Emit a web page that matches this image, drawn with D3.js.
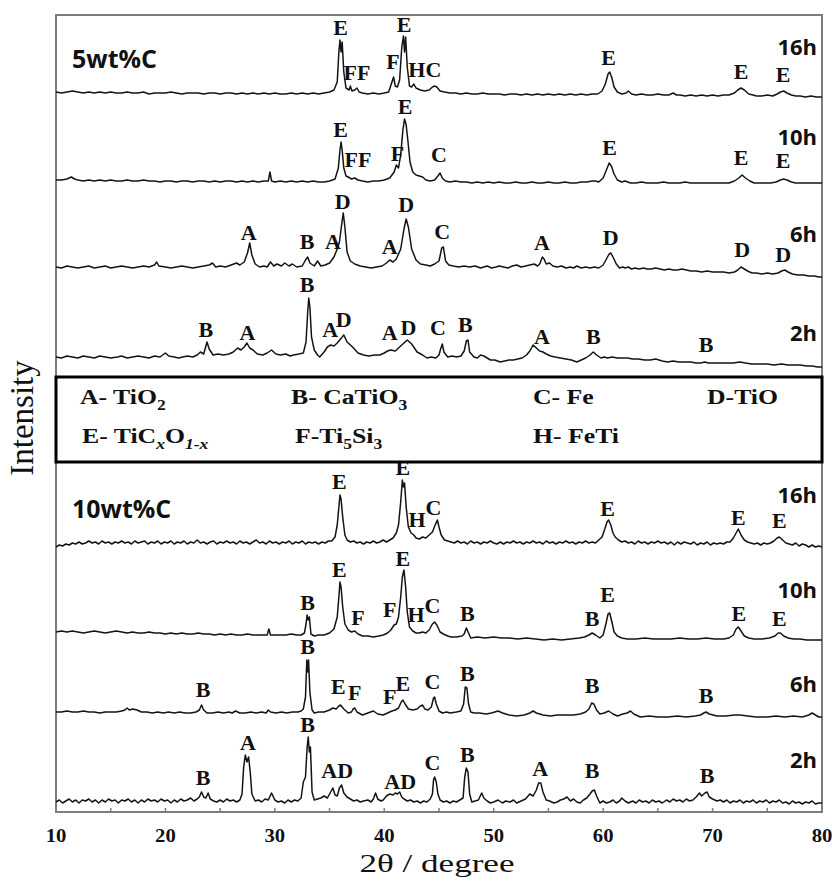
<!DOCTYPE html>
<html><head><meta charset="utf-8">
<script src="https://cdn.jsdelivr.net/npm/d3@7"></script>
<style>body{margin:0;background:#fff}svg{display:block}</style>
</head><body>
<svg id="chart" width="832" height="882"></svg>
<script>
// ---------- axis / category data ----------
const xTickValues = [10, 20, 30, 40, 50, 60, 70, 80];
const xMinorTicks = [15, 25, 35, 45, 55, 65, 75];
const groups = ["5wt%C", "10wt%C"];
const times = ["16h", "10h", "6h", "2h"];
// vertical offsets (intensity units) of the stacked patterns, top to bottom
const offsets = [720, 632, 545, 455, 265, 180, 100, 10];

// ---------- series: flat [2theta, intensity, ...] ----------
const s5_16h = [10,0,10.5,-1,11,0,11.5,1,12,0,12.5,-1,13,0,13.5,-1,14,0,14.5,-1,15,0,15.5,-1,16,-1,16.5,0,17,-1,17.5,-1,18,0,18.5,-2,19,-1,19.5,-1,20,-1,20.5,0,21,-1,21.5,-2,22,-1,22.5,-1,23,-1,23.5,-2,24,-1,24.5,-1,25,-2,25.5,-1,26,-1,26.5,-2,27,-1,27.5,-2,28,-1,28.5,-2,29,-1,29.5,-2,30,-1,30.5,-2,31,-2,31.5,-1,32,-2,32.5,-1,33,-2,33.5,-1,34,-2,34.5,-1,35,0,35.4,2,35.7,10,35.85,40,35.95,52,36.05,40,36.15,50,36.3,20,36.5,4,36.8,2,36.9,6,37.05,1,37.3,2,37.5,4,37.7,0,38,-1,38.5,-2,39,-1,39.5,-2,40,-1,40.4,0,40.7,10,40.85,15,41,6,41.2,5,41.4,12,41.6,45,41.75,56,41.85,40,41.95,55,42.1,25,42.3,6,42.5,5,42.7,8,42.9,4,43.3,2,43.7,1,44.1,2,44.4,5,44.6,6,44.8,5,45.1,1,45.5,0,46,-1,46.5,-1,47,-2,47.5,-1,48,-2,48.5,-2,49,-1,49.5,-2,50,-2,50.5,-2,51,-3,51.5,-2,52,-2,52.5,-3,53,-2,53.5,-3,54,-2,54.5,-3,55,-2,55.5,-3,56,-2,56.5,-3,57,-2,57.5,-3,58,-2,58.5,-3,59,-2,59.5,-2,59.9,1,60.2,8,60.45,18,60.6,20,60.8,14,61,5,61.3,0,61.7,-2,62.1,-1,62.3,1,62.6,-2,63,-3,63.5,-2,64,-3,64.5,-3,65,-2,65.5,-3,66,-3,66.4,-1,66.7,-3,67,-3,67.5,-4,68,-3,68.5,-4,69,-3,69.5,-4,70,-3,70.5,-4,71,-3,71.5,-3,72,-1,72.3,2,72.6,4,72.9,2,73.3,-2,73.7,-3,74,-4,74.5,-4,75,-3,75.5,-4,75.9,-2,76.2,0,76.5,1,76.8,-1,77.2,-3,77.6,-4,78,-4,78.5,-5,79,-4,79.5,-5,80,-5];

const s5_10h = [10,0,10.5,0,11,1,11.4,3,11.7,1,12,0,12.5,-1,13,0,13.5,-1,14,0,14.5,-1,15,0,15.5,-1,16,-1,16.5,0,17,-1,17.5,-1,18,0,18.5,-1,19,-1,19.5,-2,20,-1,20.5,-1,21,-2,21.5,-1,22,-1,22.5,-2,23,-1,23.5,-1,24,-2,24.5,-1,25,-2,25.5,-1,26,-1,26.5,-2,27,-1,27.5,-2,28,-1,28.5,-2,29,-1,29.4,-1,29.55,8,29.7,-1,30,-2,30.5,-1,31,-2,31.5,-1,32,-2,32.5,-1,33,-2,33.5,-1,34,-2,34.5,-2,35,-1,35.5,1,35.8,12,35.95,30,36.05,38,36.15,30,36.3,12,36.5,4,36.7,3,37,1,37.3,2,37.6,0,38,-1,38.5,-2,39,-1,39.5,-1,40,0,40.5,2,40.9,8,41.1,15,41.3,12,41.5,25,41.7,50,41.85,61,42,55,42.15,40,42.35,18,42.6,8,42.9,5,43.2,4,43.5,3,43.8,0,44.2,-1,44.6,0,44.9,4,45.1,7,45.3,2,45.6,-1,46,-2,46.5,-1,47,-2,47.5,-2,48,-3,48.5,-2,49,-3,49.5,-2,50,-3,50.5,-2,51,-3,51.5,-3,52,-2,52.5,-3,53,-3,53.5,-2,54,-3,54.5,-3,55,-2,55.5,-3,56,-3,56.5,-2,57,-3,57.5,-3,58,-2,58.5,-2,59,-1,59.3,-1,59.6,-2,60,2,60.3,10,60.55,17,60.75,14,61,6,61.3,0,61.7,-2,62,-1,62.5,-3,63,-3,63.5,-2,64,-3,64.5,-3,65,-3,65.5,-2,66,-3,66.5,-3,67,-3,67.5,-2,68,-3,68.5,-3,69,-3,69.5,-3,70,-3,70.5,-3,71,-3,71.5,-3,72,-1,72.4,2,72.7,5,73,2,73.4,-1,73.8,-3,74.3,-3,74.8,-3,75.3,-3,75.8,-2,76.2,0,76.5,1,76.8,0,77.2,-2,77.6,-3,78,-3,78.5,-3,79,-3,79.5,-3,80,-3];

const s5_6h = [10,0,10.5,-1,11,1,11.5,0,12,-1,12.5,0,13,1,13.5,-1,14,0,14.5,1,15,-1,15.5,0,16,1,16.5,0,17,-1,17.5,0,18,1,18.5,0,19,2,19.2,5,19.4,1,20,0,20.5,-1,21,0,21.5,1,22,0,22.5,-1,23,0,23.5,1,24,2,24.3,4,24.6,0,25,1,25.5,0,26,2,26.5,4,26.8,2,27.2,5,27.5,14,27.7,24,27.9,12,28.2,3,28.6,0,29,1,29.3,0,29.6,5,29.9,1,30.2,3,30.6,1,30.9,4,31.3,1,31.6,3,32,0,32.5,1,32.8,7,33,10,33.2,4,33.6,1,33.9,6,34.2,1,34.6,2,35,4,35.4,10,35.7,18,35.9,25,36.1,42,36.25,54,36.4,40,36.6,15,36.9,6,37.3,3,37.8,1,38.3,0,38.8,-1,39.3,0,39.8,1,40.2,4,40.5,7,40.8,5,41.1,8,41.5,18,41.8,38,42,48,42.2,40,42.5,18,42.9,7,43.3,3,43.8,2,44.2,1,44.6,3,45,6,45.25,19,45.4,20,45.6,6,45.9,2,46.3,1,46.8,0,47.3,1,47.8,0,48.3,1,48.8,-1,49.4,1,49.8,-1,50.2,0,50.5,1,50.9,0,51.3,-1,51.7,1,52.1,2,52.5,0,52.9,1,53.3,2,53.7,3,54,1,54.2,3,54.45,10,54.6,8,54.8,3,55.1,4,55.4,1,55.8,0,56.2,1,56.6,-1,57,0,57.3,-1,57.6,1,58,-1,58.4,0,58.8,-1,59.2,0,59.6,-1,60,2,60.3,8,60.55,13,60.7,14,60.9,10,61.2,3,61.5,-1,61.8,0,62,-1,62.3,0,62.6,-2,62.9,-1,63.3,-2,63.7,-1,64,-2,64.4,-2,64.8,-1,65.2,-2,65.6,-3,66,-2,66.4,-3,66.8,-3,67.2,-2,67.6,-3,68,-4,68.5,-4,69,-5,69.5,-4,70,-5,70.5,-5,71,-5,71.5,-6,72,-5,72.3,-3,72.6,0,72.9,-2,73.2,-4,73.6,-6,74,-6,74.5,-7,75,-6,75.5,-7,76,-6,76.3,-4,76.6,-3,76.9,-5,77.3,-7,77.8,-8,78.3,-8,78.8,-9,79.3,-9,79.7,-10,80,-10];

const s5_2h = [10,0,10.5,-1,11,1,11.5,0,12,-1,12.5,1,13,0,13.5,-1,14,1,14.5,0,15,-1,15.6,0,16,1,16.5,-1,17,0,17.5,1,18,0,18.5,-1,19,1,19.5,0,20,4,20.3,1,20.8,0,21.2,-1,21.6,0,22,1,22.5,0,22.9,2,23.2,5,23.5,3,23.8,15,24,8,24.35,2,24.8,3,25.3,2,25.8,3,26.2,5,26.6,9,26.9,7,27.2,10,27.45,14,27.7,9,28,7,28.4,3,28.9,2,29.3,4,29.7,7,30.1,3,30.5,2,31,3,31.4,1,31.7,2,32.2,3,32.6,4,32.85,15,33,45,33.1,59,33.2,50,33.35,20,33.6,7,33.9,2,34.1,0,34.5,5,34.8,10,35.1,12,35.4,11,35.7,14,36,18,36.3,22,36.6,15,37.1,10,37.6,4,38.1,2,38.6,1,39.1,2,39.6,2,40,4,40.3,6,40.6,7,41,6,41.3,9,41.7,13,42.1,17,42.5,13,43,5,43.5,2,43.9,-1,44.3,0,44.7,-1,45,2,45.15,8,45.3,13,45.45,5,45.8,0,46.2,1,46.6,0,47,1,47.3,6,47.5,16,47.65,17,47.8,5,48.2,0,48.5,-1,48.8,2,49.1,1,49.4,-1,49.7,-3,50.1,-3,50.6,-5,51,-4,51.4,-3,51.8,-3,52.2,-2,52.6,-1,53,2,53.3,6,53.6,12,53.9,9,54.2,6,54.5,5,54.8,3,55.2,1,55.6,0,56.1,-1,56.6,-2,57.1,-3,57.6,-5,58,-3,58.4,-1,58.8,2,59.1,5,59.4,2,59.8,-1,60.1,0,60.4,-1,60.8,0,61.3,-1,61.8,-1,62.2,-1,62.7,-2,63.2,-2,63.8,-3,64.3,-3,64.8,-2,65.4,-4,65.9,-5,66.4,-4,66.9,-5,67.5,-5,68,-5,68.5,-6,68.9,-6,69.3,-5,69.6,-6,70.1,-6,70.6,-6,71.2,-6,71.9,-6,72.5,-5,73,-6,73.6,-7,74.3,-7,75,-7,75.6,-8,76.3,-7,76.9,-8,77.5,-8,78,-8,78.6,-9,79.1,-9,79.6,-10,80,-10];

const s10_16h = [10,0,10.3,2,10.6,1,10.9,3,11.2,2,11.5,4,11.8,3,12.1,5,12.4,3,12.7,4,13,6,13.3,4,13.6,5,13.9,3,14.2,6,14.5,4,14.8,5,15.1,3,15.4,5,15.7,4,16,6,16.3,4,16.6,5,16.9,3,17.2,6,17.5,4,17.8,5,18.1,6,18.4,3,18.7,5,19,4,19.3,6,19.6,3,19.9,5,20.2,4,20.5,6,20.8,3,21.1,5,21.4,4,21.7,6,22,3,22.3,5,22.6,4,22.9,7,23.2,4,23.5,5,23.8,3,24.1,5,24.4,6,24.7,3,25,5,25.3,4,25.6,6,25.9,4,26.2,5,26.5,3,26.8,6,27.1,4,27.4,5,27.7,3,28,5,28.3,7,28.6,4,28.9,5,29.2,3,29.5,6,29.8,4,30.1,5,30.4,3,30.7,5,31,4,31.3,6,31.6,3,31.9,5,32.2,4,32.5,6,32.8,3,33.1,5,33.4,4,33.7,5,34,3,34.3,5,34.6,4,34.9,6,35.2,6,35.5,10,35.7,22,35.85,40,35.95,52,36.05,48,36.2,30,36.4,12,36.6,7,36.9,5,37.2,6,37.5,4,37.8,5,38.1,3,38.4,5,38.7,4,39,6,39.3,4,39.6,5,39.9,7,40.2,5,40.5,7,40.8,9,41.1,14,41.3,22,41.5,45,41.65,67,41.75,60,41.85,64,42,40,42.2,20,42.45,14,42.7,12,42.9,9,43.2,8,43.5,10,43.8,9,44.1,12,44.4,15,44.65,22,44.85,27,45,20,45.2,12,45.5,7,45.8,6,46.1,5,46.4,4,46.7,6,47,4,47.3,5,47.6,3,47.9,6,48.2,4,48.5,5,48.8,3,49.1,5,49.4,4,49.7,6,50,4,50.3,3,50.6,5,50.9,3,51.2,5,51.5,4,51.8,6,52.1,4,52.4,5,52.7,3,53,5,53.3,4,53.6,6,53.9,4,54.2,5,54.5,3,54.8,6,55.1,4,55.4,5,55.7,3,56,5,56.3,4,56.6,6,56.9,4,57.2,5,57.5,3,57.8,5,58.1,4,58.4,6,58.7,4,59,5,59.3,4,59.6,7,59.9,10,60.15,18,60.35,25,60.5,27,60.7,22,60.9,14,61.1,10,61.4,7,61.7,5,62,6,62.3,4,62.6,5,62.9,3,63.2,6,63.5,4,63.8,5,64.1,3,64.4,5,64.7,4,65,6,65.3,4,65.6,5,65.9,3,66.2,5,66.5,2,66.8,5,67.1,3,67.4,5,67.7,4,68,3,68.3,5,68.6,2,68.9,4,69.2,3,69.5,5,69.8,2,70.1,4,70.4,3,70.7,4,71,3,71.3,5,71.6,5,71.9,9,72.15,14,72.35,18,72.6,12,72.9,7,73.2,5,73.5,4,73.8,3,74.1,4,74.4,2,74.7,4,75,3,75.3,4,75.6,6,75.9,9,76.1,10,76.4,7,76.7,4,77,3,77.3,2,77.6,4,77.9,1,78.2,3,78.5,2,78.8,0,79.1,2,79.4,0,79.7,1,80,0];

const s10_10h = [10,0,10.5,1,11,0,11.5,1,12,0,12.5,-1,13,0,13.5,1,14,0,14.5,-1,15,0,15.5,1,16,0,16.5,-1,17,0,17.5,-1,18,-1,18.5,0,19,-1,19.5,-1,20,-2,20.5,-1,21,-2,21.5,-1,22,-2,22.5,-2,23,-1,23.5,-2,24,-2,24.5,-3,25,-2,25.5,-3,26,-2,26.5,-3,27,-3,27.5,-2,28,-3,28.5,-3,29,-3,29.3,-3,29.45,3,29.6,-3,30,-3,30.5,-3,31,-3,31.5,-2,32,-3,32.4,-3,32.7,-1,32.85,8,32.95,17,33.05,12,33.15,15,33.3,-2,33.6,-4,34,-3,34.5,-3,35,-1,35.4,3,35.7,15,35.85,35,35.95,50,36.05,45,36.2,25,36.4,8,36.7,2,37,0,37.3,1,37.6,-2,38,-4,38.5,-4,39,-5,39.5,-4,39.9,-3,40.3,-1,40.6,2,40.9,7,41.1,8,41.3,15,41.5,35,41.65,55,41.8,62,41.95,45,42.1,20,42.3,5,42.6,1,42.9,-1,43.2,-1,43.5,0,43.8,-1,44.1,2,44.4,8,44.6,10,44.8,7,45.1,0,45.4,-2,45.8,-4,46.1,-5,46.6,-5,47.1,-4,47.3,-2,47.5,4,47.7,-1,47.9,-6,48.5,-5,49.2,-6,50,-5,50.7,-6,51.4,-6,52.2,-7,53,-6,53.8,-7,54.6,-8,55.4,-7,56.2,-8,57,-7,57.8,-6,58.3,-5,58.7,-3,59,-1,59.3,-3,59.7,-6,60,-3,60.25,8,60.45,18,60.6,19,60.8,10,61,0,61.3,-4,61.7,-6,62.2,-7,63,-7,63.8,-6,64.6,-7,65.4,-7,66.2,-7,67,-6,67.8,-7,68.6,-7,69.4,-6,70.2,-7,71,-7,71.5,-6,71.9,-3,72.15,3,72.35,5,72.6,1,72.9,-4,73.3,-6,73.8,-7,74.5,-7,75.2,-6,75.7,-4,76,-1,76.2,-1,76.5,-4,76.9,-6,77.4,-7,78,-7,78.6,-8,79.3,-8,80,-8];

const s10_6h = [10,0,10.5,0,11,1,11.5,0,12,0,12.5,1,13,0,13.5,0,14,-1,14.5,0,15,0,15.5,0,16,1,16.3,2,16.5,4,16.7,2,17,3,17.4,2,17.8,0,18.3,0,18.8,-1,19.3,0,19.8,-1,20.3,0,20.8,-1,21.3,0,21.8,-1,22.3,-1,22.8,0,23.1,2,23.3,7,23.5,2,23.8,-1,24.3,-1,24.8,0,25.3,-1,25.8,0,26.1,-1,26.4,1,26.8,-1,27.3,-1,27.8,0,28.3,-1,28.8,0,29.2,-1,29.4,2,29.6,0,30.1,-1,30.6,0,31.1,-1,31.6,0,32.1,0,32.4,1,32.6,3,32.8,15,32.92,52,33,40,33.08,52,33.2,20,33.4,2,33.6,-1,34,0,34.5,0,35,2,35.3,4,35.6,3,35.85,6,36,7,36.3,3,36.7,-1,37,0,37.15,3,37.3,4,37.5,0,38,-3,38.5,-1,39,1,39.4,-2,39.9,-3,40.3,-1,40.7,1,41,2,41.3,4,41.55,10,41.7,12,41.9,8,42.2,3,42.6,2,43,3,43.3,6,43.5,7,43.7,3,44,2,44.3,5,44.5,14,44.6,15,44.75,8,45,1,45.3,-1,45.7,0,46,-1,46.6,0,47,1,47.25,8,47.4,25,47.55,24,47.7,8,47.9,0,48.2,-1,48.7,-1,49.3,-2,49.8,-1,50.4,1,50.8,-1,51.4,-3,52.1,-4,52.8,-3,53.3,-1,53.6,1,53.9,-1,54.5,-3,55.2,-4,55.8,-3,56.5,-3,57.3,-3,57.9,-2,58.4,0,58.7,3,58.95,9,59.15,8,59.4,2,59.7,-2,60.1,-1,60.5,1,60.9,-2,61.3,-4,61.8,-2,62.2,-1,62.5,1,62.8,-2,63.4,-5,64.2,-4,65,-5,65.9,-5,66.8,-4,67.6,-5,68.4,-4,68.9,-3,69.2,-1,69.4,0,69.7,-2,70.4,-4,71.2,-4,72,-3,72.5,-3,73.2,-4,74,-5,75,-5,75.8,-4,76.6,-5,77.4,-4,78.2,-5,78.8,-3,79.1,-1,79.4,-3,79.7,-5,80,-5];

const s10_2h = [10,0,10.3,2,10.6,-1,10.9,1,11.2,3,11.5,0,11.8,2,12.1,-1,12.4,2,12.7,1,13,3,13.3,0,13.6,2,13.9,-1,14.2,2,14.5,0,14.8,3,15.1,1,15.4,2,15.7,-1,16,2,16.3,1,16.6,3,16.9,0,17.2,2,17.5,-1,17.8,2,18.1,0,18.4,3,18.7,1,19,2,19.3,0,19.6,3,19.9,1,20.2,2,20.5,-1,20.8,2,21.1,0,21.4,3,21.7,1,22,2,22.3,4,22.6,1,22.9,3,23.1,5,23.3,10,23.5,5,23.7,4,23.9,9,24.1,3,24.4,1,24.7,0,25,2,25.3,0,25.6,3,25.9,1,26.2,2,26.5,0,26.8,2,27,8,27.15,35,27.3,47,27.45,40,27.6,45,27.75,30,27.9,8,28.2,1,28.5,2,28.8,0,29.1,3,29.4,2,29.7,9,30,2,30.3,0,30.6,1,30.9,-1,31.2,2,31.5,0,31.8,2,32.1,1,32.4,4,32.6,20,32.8,25,32.95,55,33.05,65,33.15,50,33.25,55,33.4,10,33.6,2,33.9,3,34.2,4,34.5,6,34.8,4,35,8,35.3,14,35.5,7,35.7,6,35.9,14,36.1,17,36.3,9,36.6,5,36.9,3,37.2,1,37.5,2,37.8,0,38.1,1,38.5,2,38.8,0,39,3,39.2,9,39.4,3,39.7,1,39.9,2,40.2,6,40.5,8,40.8,7,41,9,41.2,8,41.4,10,41.6,5,41.8,3,42.1,1,42.4,2,42.7,0,43,1,43.3,-1,43.6,1,43.9,0,44.2,3,44.4,8,44.5,22,44.6,25,44.75,20,44.9,8,45.1,2,45.4,0,45.7,1,46,-1,46.3,1,46.6,0,46.9,2,47.2,4,47.35,25,47.5,34,47.65,30,47.8,8,48,0,48.3,1,48.6,2,48.9,9,49.1,4,49.4,1,49.7,-1,50,0,50.4,2,50.8,-1,51.1,1,51.5,0,51.8,2,52.1,-1,52.5,1,52.9,3,53.3,8,53.6,6,53.9,12,54.1,19,54.3,19,54.5,10,54.8,2,55.1,1,55.5,-1,55.8,0,56.1,2,56.4,3,56.7,5,57,1,57.3,3,57.6,0,57.9,-1,58.2,2,58.5,4,58.8,8,59,11,59.2,12,59.4,6,59.7,-1,60,1,60.3,-1,60.6,0,60.9,2,61.2,-1,61.5,1,61.7,4,62,1,62.3,-1,62.7,1,63,-1,63.3,2,63.6,0,63.9,1,64.2,-1,64.5,2,64.8,0,65.1,1,65.4,-1,65.8,2,66.1,0,66.4,3,66.7,1,67,2,67.3,0,67.6,3,67.9,1,68.2,2,68.5,5,68.8,9,69,6,69.3,9,69.5,10,69.7,5,70,3,70.4,1,70.7,2,71,0,71.3,2,71.6,-1,71.9,1,72.2,0,72.5,2,72.8,-1,73.1,1,73.4,0,73.7,2,74,-1,74.3,1,74.6,0,74.9,2,75.2,-1,75.5,1,75.8,0,76.1,2,76.4,-1,76.7,0,77,-2,77.3,1,77.6,-1,77.9,0,78.2,-2,78.5,0,78.8,-1,79.1,1,79.4,-2,79.7,-1,80,-1];

// ---------- peak labels: [2theta, phase, intensity of label centre] ----------
const p5_16h = [[36.0,"E",64],[41.8,"E",67],[37.5,"FF",19],[40.8,"F",30],[43.7,"HC",22],[60.5,"E",34],[72.6,"E",20],[76.45,"E",17]];
const p5_10h = [[36.0,"E",50],[41.9,"E",73],[37.6,"FF",20],[41.2,"F",26],[45.0,"C",25],[60.6,"E",32],[72.6,"E",22],[76.45,"E",19]];
const p5_6h = [[27.6,"A",34],[32.95,"B",25],[35.3,"A",25],[36.2,"D",65],[40.5,"A",20],[42.0,"D",62],[45.3,"C",35],[54.4,"A",24],[60.7,"D",29],[72.7,"D",17],[76.45,"D",12]];
const p5_2h = [[23.7,"B",27],[27.5,"A",24],[32.95,"B",72],[35.05,"A",27],[36.3,"D",37],[40.5,"A",24],[42.2,"D",29],[44.9,"C",29],[47.4,"B",32],[54.4,"A",20],[59.1,"B",20],[69.4,"B",12]];
const p10_16h = [[35.9,"E",65],[41.7,"E",79],[43.0,"H",27],[44.5,"C",39],[60.4,"E",38],[72.35,"E",29],[76.1,"E",26]];
const p10_10h = [[33.0,"B",29],[35.9,"E",62],[37.6,"F",14],[40.5,"F",22],[41.7,"E",73],[42.9,"H",17],[44.4,"C",26],[47.6,"B",18],[59.0,"B",13],[60.4,"E",37],[72.4,"E",18],[76.1,"E",13]];
const p10_6h = [[23.45,"B",22],[33.0,"B",65],[35.8,"E",25],[37.3,"F",19],[40.5,"F",15],[41.7,"E",28],[44.4,"C",30],[47.6,"B",38],[59.0,"B",26],[69.4,"B",16]];
const p10_2h = [[23.45,"B",24],[27.55,"A",59],[33.0,"B",77],[35.7,"AD",31],[41.45,"AD",20],[44.4,"C",39],[47.6,"B",47],[54.25,"A",33],[59.0,"B",31],[69.5,"B",26]];

// ---------- legend (phase key) ----------
const legendRow1 = [
  [["A- TiO",""],["2","sub"]],
  [["B- CaTiO",""],["3","sub"]],
  [["C- Fe",""]],
  [["D-TiO",""]]
];
const legendRow2 = [
  [["E- TiC",""],["x","subi"],["O",""],["1-x","subi"]],
  [["F-Ti",""],["5","sub"],["Si",""],["3","sub"]],
  [["H- FeTi",""]]
];

// ---------- drawing ----------
const L = 56, R = 822, T = 15, B = 812;
const SERIF = "'Liberation Serif','Times New Roman',serif";
const SANS = "'Open Sans','Noto Sans',sans-serif";
const svg = d3.select("#chart");
const x = d3.scaleLinear().domain([10, 80]).range([L, R]);
const y = d3.scaleLinear().domain([0, 797]).range([B, T]);

const toPairs = a => { const out = []; for (let i = 0; i < a.length; i += 2) out.push([a[i], a[i+1]]); return out; };
const series = [s5_16h, s5_10h, s5_6h, s5_2h, s10_16h, s10_10h, s10_6h, s10_2h].map(toPairs);
const peakSets = [p5_16h, p5_10h, p5_6h, p5_2h, p10_16h, p10_10h, p10_6h, p10_2h];

// frame
svg.append("rect").attr("x", L).attr("y", T).attr("width", R - L).attr("height", B - T)
  .attr("fill", "none").attr("stroke", "#7d7d7d").attr("stroke-width", 2);

// traces
series.forEach((s, i) => {
  const off = offsets[i];
  const line = d3.line().x(d => x(d[0])).y(d => y(off + d[1]));
  svg.append("path").datum(s).attr("d", line).attr("fill", "none")
    .attr("stroke", "#141414").attr("stroke-width", 1.5).attr("stroke-linejoin", "round");
});

// peak labels (slightly wide bold serif like the source)
peakSets.forEach((ps, i) => {
  const off = offsets[i];
  svg.append("g").selectAll("text").data(ps).join("text")
    .attr("transform", d => `translate(${x(d[0])},${y(off + d[2])}) scale(1.1,1)`)
    .attr("dy", "0.35em")
    .attr("text-anchor", "middle")
    .attr("font-family", SERIF)
    .attr("font-weight", "bold").attr("font-size", 20).attr("fill", "#111")
    .text(d => d[1]);
});

// sample time labels
const timeBaselines = [55, 145, 242, 341, 503, 598, 692, 768];
timeBaselines.forEach((yy, i) => {
  svg.append("text").attr("x", 817).attr("y", yy).attr("text-anchor", "end")
    .attr("font-family", SANS).attr("font-weight", "bold")
    .attr("font-size", 22).attr("fill", "#111").text(times[i % 4]);
});

// group labels
[[68, groups[0]], [518, groups[1]]].forEach(([yy, t]) => {
  svg.append("text").attr("x", 72).attr("y", yy)
    .attr("font-family", SANS).attr("font-weight", "bold")
    .attr("font-size", 25).attr("fill", "#111").text(t);
});

// legend box
svg.append("rect").attr("x", L).attr("y", 377).attr("width", R - L).attr("height", 85)
  .attr("fill", "#fff").attr("stroke", "#000").attr("stroke-width", 3);
function legendItem(segs, xx, yy) {
  const t = svg.append("text").attr("transform", `translate(${xx},${yy}) scale(1.17,1)`)
    .attr("font-family", SERIF)
    .attr("font-weight", "bold").attr("font-size", 22).attr("fill", "#111");
  let shifted = false;
  segs.forEach(([s, kind]) => {
    const sp = t.append("tspan").text(s);
    if (kind === "sub" || kind === "subi") {
      sp.attr("font-size", 15).attr("dy", shifted ? 0 : 6);
      if (kind === "subi") sp.attr("font-style", "italic");
      shifted = true;
    } else if (shifted) { sp.attr("dy", -6); shifted = false; }
  });
}
const legendCols1 = [80, 291, 533, 707];
const legendCols2 = [82, 295, 533];
legendRow1.forEach((segs, i) => legendItem(segs, legendCols1[i], 404));
legendRow2.forEach((segs, i) => legendItem(segs, legendCols2[i], 443));

// x axis ticks (inside, bottom)
svg.append("g").selectAll("line").data(xTickValues.concat(xMinorTicks)).join("line")
  .attr("x1", d => x(d)).attr("x2", d => x(d)).attr("y1", B).attr("y2", B - 4)
  .attr("stroke", "#7d7d7d").attr("stroke-width", 1.5);
svg.append("g").selectAll("text").data(xTickValues).join("text")
  .attr("transform", d => `translate(${x(d)},842) scale(1.15,1)`).attr("text-anchor", "middle")
  .attr("font-family", SERIF)
  .attr("font-weight", "bold").attr("font-size", 18).attr("fill", "#111").text(d => d);

// axis titles
svg.append("text").attr("x", 437).attr("y", 872).attr("text-anchor", "middle")
  .attr("font-family", SERIF)
  .attr("font-size", 25).attr("fill", "#111")
  .attr("textLength", 155).attr("lengthAdjust", "spacingAndGlyphs").text("2θ / degree");
svg.append("text").attr("transform", "translate(33,418) rotate(-90)").attr("text-anchor", "middle")
  .attr("font-family", SERIF)
  .attr("font-size", 33).attr("fill", "#111").text("Intensity");
</script>
</body></html>
